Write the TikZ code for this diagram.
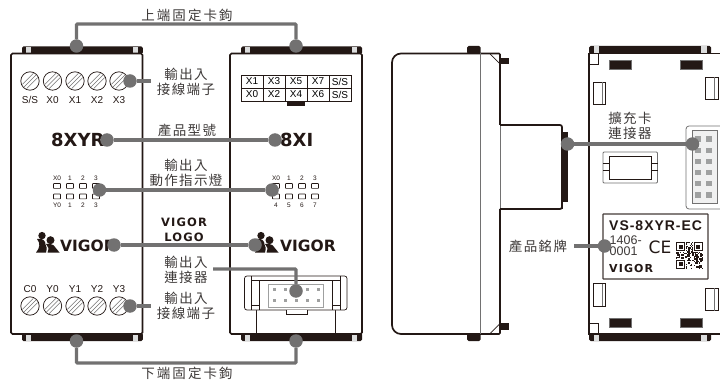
\documentclass[tikz,border=0pt]{standalone}
\usepackage{fontspec}
\setmainfont{Liberation Sans}
\newfontfamily\cjk[LetterSpace=10]{Noto Sans CJK TC}
\newfontfamily\cjkw[LetterSpace=15]{Noto Sans CJK TC}
\newfontfamily\djbold{DejaVu Sans Bold}
\newfontfamily\djreg{DejaVu Sans}
\newfontfamily\djboldsp[LetterSpace=10]{DejaVu Sans Bold}
\newfontfamily\platefont[LetterSpace=7]{Liberation Sans Bold}
\definecolor{blk}{HTML}{231815}
\definecolor{lead}{HTML}{727171}
\definecolor{txt}{HTML}{3E3A39}
\definecolor{notchc}{HTML}{DCDDDD}
\definecolor{pinc}{HTML}{9FA0A0}
\tikzset{
  x=1pt,y=-1pt,
  outline/.style={draw=blk,line width=1.7pt},
  thin line/.style={draw=blk,line width=0.7pt},
  graybox/.style={draw=lead,line width=0.8pt},
  lead line/.style={draw=lead,line width=3.4pt},
  pdot/.style={circle,fill=lead,draw=none,minimum size=13.5pt,inner sep=0pt},
  cjklabel/.style={font=\cjk\fontsize{13.5}{15}\selectfont,text=txt,align=center,inner sep=0pt},
  cjkwide/.style={font=\cjkw\fontsize{13.5}{15}\selectfont,text=txt,align=center,inner sep=0pt},
  termlabel/.style={font=\fontsize{10}{10}\selectfont,text=blk,inner sep=0pt},
  ledlabel/.style={font=\fontsize{6.5}{7}\selectfont,text=blk,inner sep=0pt},
  ledbox/.style={draw=blk,line width=0.7pt,minimum width=7pt,minimum height=4.8pt,inner sep=0pt,rounded corners=0.5pt},
  cell/.style={draw=blk,line width=0.8pt,minimum width=22pt,minimum height=13pt,inner sep=0pt,font=\fontsize{10}{10}\selectfont},
  pin/.style={fill=pinc,draw=none,minimum size=3pt,inner sep=0pt},
  bigpin/.style={fill=pinc,draw=none,minimum size=5.5pt,inner sep=0pt},
  screw/.pic={
    \draw[blk,line width=0.7pt,fill=white] (0,0) circle (9.2);
    \draw[lead,line width=0.6pt] (-7.6,3.4)--(3.4,-7.6) (-3.4,7.6)--(7.6,-3.4) (-6.2,6.2)--(6.2,-6.2);
  },
  vlogo/.pic={
    \fill[blk] (5,3.6) circle (3.7);
    \fill[blk] (13.5,8.2) circle (4);
    \fill[blk] (0,7) .. controls (5,5.5) and (9,9) .. (8.5,12.5) .. controls (10,14) and (10,17) .. (9,20.5) -- (-1,20.5) .. controls (3,16) and (3.5,11) .. (0,7) -- cycle;
    \fill[blk] (9,12) .. controls (13,11.5) and (17,12.5) .. (18,15) -- (22.5,20.5) -- (10.5,20.5) .. controls (12,17) and (11.5,14) .. (9,12) -- cycle;
  },
}
\begin{document}
\begin{tikzpicture}
\useasboundingbox (0,0) rectangle (720,382);
% ---------- left module
\fill[blk,rounded corners=1.5pt] (22,46.5) rectangle (142.8,54);
\fill[notchc] (26,47) rectangle (31,53);
\fill[notchc] (133,47) rectangle (138,53);
\fill[blk,rounded corners=1.5pt] (22,333) rectangle (142.8,341);
\fill[notchc] (26,335) rectangle (31,341);
\fill[notchc] (133,335) rectangle (138,341);
\draw[outline,rounded corners=1.5pt,fill=white] (11,53.5) rectangle (142.5,334);
% ---------- right module
\fill[blk,rounded corners=1.5pt] (241,46.5) rectangle (362,54);
\fill[notchc] (245,47) rectangle (250,53);
\fill[notchc] (352,47) rectangle (357,53);
\fill[blk,rounded corners=1.5pt] (241,333) rectangle (362,341);
\fill[notchc] (245,335) rectangle (250,341);
\fill[notchc] (352,335) rectangle (357,341);
\draw[outline,rounded corners=1.5pt,fill=white] (230,53.5) rectangle (362,334);
% screws + labels
\foreach \n/\px/\a/\b in {1/30/S\slash S/C0,2/52.5/X0/Y0,3/75/X1/Y1,4/97/X2/Y2,5/119/X3/Y3}{
  \pic at (\px,81) {screw};
  \pic at (\px,306) {screw};
  \node[termlabel] (ta\n) at (\px,100) {\a};
  \node[termlabel] (tb\n) at (\px,289) {\b};
}
% terminal table
\foreach \n/\px/\a/\b in {1/252/X1/X0,2/274/X3/X2,3/296/X5/X4,4/318/X7/X6,5/340/S\slash S/S\slash S}{
  \node[cell] (cu\n) at (\px,81.5) {\a};
  \node[cell] (cd\n) at (\px,94.5) {\b};
}
\fill[blk] (287,101) rectangle (305,106);
% product names
\node[font=\djbold\fontsize{18}{19}\selectfont,text=blk,anchor=west,inner sep=0pt] (nameL) at (51,140) {8XYR};
\node[font=\djbold\fontsize{18}{19}\selectfont,text=blk,anchor=east,inner sep=0pt] (nameR) at (313.5,140) {8XI};
% LEDs left
\foreach \n/\px/\a/\b in {1/57/X0/Y0,2/70/1/1,3/83/2/2,4/96/3/3}{
  \node[ledlabel] (lla\n) at (\px,178) {\a};
  \node[ledbox] (llu\n) at (\px,186) {};
  \node[ledbox] (lld\n) at (\px,196.5) {};
  \node[ledlabel] (llb\n) at (\px,205) {\b};
}
% LEDs right
\foreach \n/\px/\a/\b in {1/276/X0/4,2/289/1/5,3/302/2/6,4/315/3/7}{
  \node[ledlabel] (rla\n) at (\px,178) {\a};
  \node[ledbox] (rlu\n) at (\px,186) {};
  \node[ledbox] (rld\n) at (\px,196.5) {};
  \node[ledlabel] (rlb\n) at (\px,205) {\b};
}
% logos
\pic at (37,232) {vlogo};
\node[font=\djbold\fontsize{15.5}{16}\selectfont,text=blk,anchor=west,inner sep=0pt] (logoL) at (60,245.5) {VIGOR};
\pic at (256,232) {vlogo};
\node[font=\djbold\fontsize{15.5}{16}\selectfont,text=blk,anchor=west,inner sep=0pt] (logoR) at (280,245.5) {VIGOR};
% IO connector
\draw[thin line] (256,310) -- (256,334) (335,310) -- (335,334);
\draw[thin line,fill=white,rounded corners=2.5pt] (244.5,276) rectangle (347,310);
\draw[thin line] (251,276) -- (251,310) (259,280) -- (259,310) (251,280) -- (340,280)
  (332,280) -- (332,310) (340,276) -- (340,310) (251,305) -- (259,305) (332,305) -- (340,305);
\draw[thin line,fill=white] (286,310) -- (286,314) -- (307,314) -- (307,310);
\draw[line width=0.7pt,draw=pinc] (268,284) rectangle (323,307);
\foreach \n/\px in {1/274,2/285,3/296,4/307,5/318}{
  \node[pin] (pu\n) at (\px,289.5) {};
  \node[pin] (pd\n) at (\px,300.5) {};
}
% ---------- side view
\draw[outline,rounded corners=9pt,fill=white] (480,53.5) -- (392,53.5) -- (392,334) -- (480,334);
\draw[outline,rounded corners=1pt] (480,53.5) -- (500,53.5) -- (500,125) (500,209) -- (500,334) -- (480,334);
\draw[lead,line width=0.9pt] (480,53) -- (480,334);
\fill[blk,rounded corners=1.5pt] (467,46) rectangle (480.5,54);
\fill[blk,rounded corners=1.5pt] (467,333.5) rectangle (480.5,341);
\fill[blk] (500.5,58) rectangle (509,64.5);
\fill[blk] (500.5,323) rectangle (509,330);
\draw[thin line] (490,54) -- (499.5,63.5) (490,333.5) -- (499.5,324);
\draw[lead,line width=0.8pt] (500,125) -- (500,209);
\draw[outline,rounded corners=2pt] (500,125) -- (562,125) -- (562,209) -- (500,209);
\fill[blk] (561.5,132) rectangle (568,202);
\draw[outline] (562,200) -- (562,209);
% ---------- rear view
\fill[blk,rounded corners=1.5pt] (589,46) rectangle (711,54);
\fill[notchc] (593.5,46.5) rectangle (599,53);
\fill[notchc] (701,46.5) rectangle (707,53);
\fill[blk,rounded corners=1.5pt] (589,333) rectangle (711,341);
\fill[notchc] (593.5,335) rectangle (599,341);
\fill[notchc] (701,335) rectangle (707,341);
\draw[outline] (722,53.5) -- (589,53.5) -- (589,334) -- (722,334);
\draw[thin line] (590,64) -- (598.5,64) -- (598.5,54);
\draw[thin line] (590,323) -- (598.5,323) -- (598.5,333);
\foreach \py in {60,318}{
  \draw[graybox,fill=blk] (609.5,\py) rectangle (631,\py+9);
  \draw[graybox,fill=blk] (680.5,\py) rectangle (702,\py+9);
}
\foreach \px/\py in {593.5/82,593.5/283.5}{
  \draw[thin line] (\px,\py) rectangle (\px+11.5,\py+22.5);
  \draw[graybox] (\px+9,\py) -- (\px+9,\py+22.5);
}
\foreach \px/\py in {705.5/77,705.5/288}{
  \draw[thin line] (\px,\py) rectangle (\px+12.5,\py+22.5);
  \draw[graybox] (\px+9,\py) -- (\px+9,\py+22.5);
}
% window
\draw[graybox,rounded corners=1pt] (603,152) rectangle (657.5,183);
\draw[thin line,line width=0.9pt] (609.5,156) rectangle (651,179);
\draw[thin line] (603,163) -- (609.5,163) (603,170) -- (609.5,170) (651,163) -- (657.5,163) (651,170) -- (657.5,170);
% expansion connector
\draw[graybox,rounded corners=3pt] (722,126) -- (686,126) -- (686,209) -- (722,209);
\draw[draw=lead,line width=1pt,fill=black!6] (692,131) rectangle (717,204);
\foreach \n/\py in {1/139,2/150.5,3/161.5,4/172.5,5/183.5,6/195}{
  \node[bigpin] (ea\n) at (698,\py) {};
  \node[bigpin] (eb\n) at (709,\py) {};
}
% nameplate
\draw[draw=blk!85,line width=1.2pt,rounded corners=0.5pt,fill=white] (603,214) rectangle (708,279);
\node[font=\platefont\fontsize{14}{15}\selectfont,text=blk,anchor=west,inner sep=0pt] (plateA) at (609,226) {VS-8XYR-EC};
\node[font=\fontsize{12.5}{11.5}\selectfont,text=txt,anchor=north west,inner sep=0pt,align=left] (plateB) at (609.5,235.5) {1406-\\0001};
\node[font=\djreg\fontsize{17}{18}\selectfont,text=blk,inner sep=0pt] (plateCE) at (660,247) {CE};
\node[font=\djboldsp\fontsize{11}{12}\selectfont,text=blk,anchor=west,inner sep=0pt] (plateV) at (609,268) {VIGOR};
\pgfmathsetseed{11}
\foreach \i in {0,...,19}{\foreach \j in {0,...,19}{
  \pgfmathsetmacro\r{rnd}
  \pgfmathparse{(\r<0.45)?1:0}
  \ifnum\pgfmathresult=1
    \fill[blk] (676+\i*1.35,242+\j*1.35) rectangle ++(1.35,1.35);
  \fi
}}
\foreach \px/\py in {676/242,693.55/242,676/259.55}{
  \fill[white] (\px-0.7,\py-0.7) rectangle ++(10.85,10.85);
  \draw[blk,line width=1.35pt] (\px+0.7,\py+0.7) rectangle ++(8.1,8.1);
  \fill[blk] (\px+2.7,\py+2.7) rectangle ++(4.05,4.05);
}
% ---------- labels
\node[cjkwide] (lblTop) at (187,15) {上端固定卡鉤};
\node[cjkwide] (lblBot) at (187,373) {下端固定卡鉤};
\node[cjklabel] (lblIO1) at (186,81.5) {輸出入\\接線端子};
\node[cjklabel] (lblName) at (187,130) {產品型號};
\node[cjklabel] (lblLed) at (186,173) {輸出入\\動作指示燈};
\node[font=\djboldsp\fontsize{11.5}{15}\selectfont,text=blk,align=center,inner sep=0pt] (lblLogo) at (184,229.5) {VIGOR\\LOGO};
\node[cjklabel] (lblCon) at (186,269.5) {輸出入\\連接器};
\node[cjklabel] (lblIO2) at (186,306) {輸出入\\接線端子};
\node[cjklabel] (lblExp) at (630,125.5) {擴充卡\\連接器};
\node[cjklabel] (lblPlate) at (538,246.5) {產品銘牌};
% ---------- connectors
\node[pdot] (dTopL) at (76.5,46) {};
\node[pdot] (dTopR) at (296,46) {};
\node[pdot] (dBotL) at (76.5,341) {};
\node[pdot] (dBotR) at (296,341) {};
\node[pdot] (dIO1) at (130,81) {};
\node[pdot] (dIO2) at (130,306) {};
\node[pdot] (dNameL) at (107,140) {};
\node[pdot] (dNameR) at (275,140) {};
\node[pdot] (dLedL) at (99.5,190) {};
\node[pdot] (dLedR) at (272,190) {};
\node[pdot] (dLogoL) at (114,245) {};
\node[pdot] (dLogoR) at (255,245) {};
\node[pdot] (dCon) at (296,291) {};
\node[pdot] (dSide) at (567.5,144) {};
\node[pdot] (dExp) at (692.5,144) {};
\node[pdot] (dPlate) at (604.5,246) {};
\coordinate (jTop) at (186,24);
\coordinate (jBot) at (186,363);
\coordinate (eIO1) at (151,81);
\coordinate (eIO2) at (151,306);
\coordinate (eCon) at (213,269);
\coordinate (ePlate) at (574,246);
\draw[lead line,rounded corners=1pt] (dTopL) |- (jTop) -| (dTopR);
\draw[lead line,rounded corners=1pt] (dBotL) |- (jBot) -| (dBotR);
\draw[lead line] (dIO1) -- (eIO1);
\draw[lead line] (dIO2) -- (eIO2);
\draw[lead line] (dNameL) -- (dNameR);
\draw[lead line] (dLedL) -- (dLedR);
\draw[lead line] (dLogoL) -- (dLogoR);
\draw[lead line,rounded corners=1pt] (dCon) |- (eCon);
\draw[lead line] (dSide) -- (dExp);
\draw[lead line] (dPlate) -- (ePlate);
\end{tikzpicture}
\end{document}
